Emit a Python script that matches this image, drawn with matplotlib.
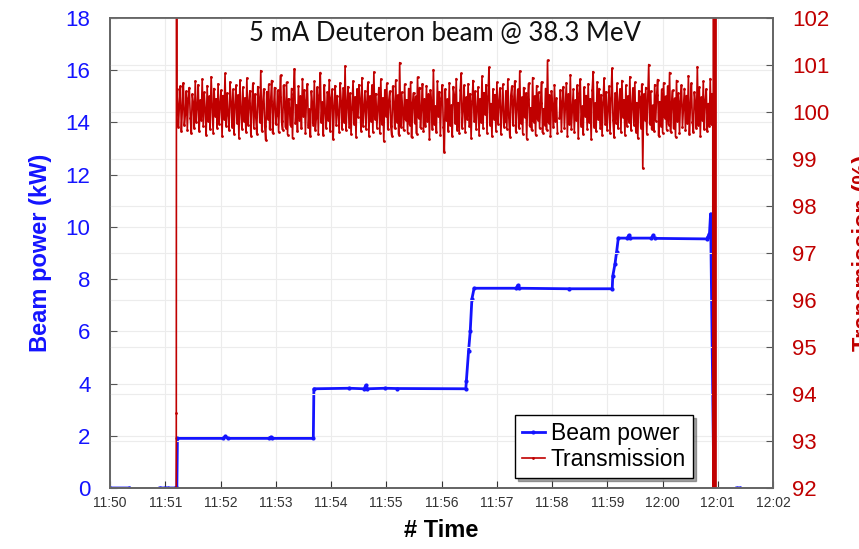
import numpy as np
import matplotlib.pyplot as plt

# time axis: minutes after 11:50
tick_minutes = list(range(0, 13))
tick_labels = ['11:50', '11:51', '11:52', '11:53', '11:54', '11:55', '11:56',
               '11:57', '11:58', '11:59', '12:00', '12:01', '12:02']

# beam power (kW); nan = gap in the log
power_t = [0.00, 0.35, 0.36, 0.90, 1.00, 1.01, 1.05, 1.18, 1.21,
           1.22, 2.05, 2.09, 2.13, 2.88, 2.91, 2.94, 3.68,
           3.69, 4.33, 4.60, 4.63, 4.66, 4.98, 5.19, 6.44,
           6.45, 6.49, 6.52, 6.55, 6.59, 7.35, 7.38, 7.41, 8.30, 9.09,
           9.10, 9.14, 9.17, 9.20, 9.36, 9.39, 9.42, 9.80, 9.83, 9.86, 10.80,
           10.82, 10.85, 10.87, 10.93, 11.33, 11.34, 11.40]
power_kw = [0.0, 0.0, np.nan, 0.0, 0.0, np.nan, 0.0, 0.0, 0.0,
            1.90, 1.90, 1.98, 1.90, 1.90, 1.95, 1.90, 1.90,
            3.80, 3.82, 3.80, 3.93, 3.80, 3.82, 3.81, 3.80,
            4.10, 5.25, 6.00, 7.24, 7.65, 7.65, 7.76, 7.65, 7.63, 7.63,
            8.12, 8.58, 9.05, 9.57, 9.57, 9.68, 9.57, 9.57, 9.68, 9.56, 9.54,
            9.62, 9.73, 10.50, 0.0, np.nan, 0.0, 0.0]

# transmission (%) at beam start and at beam stop
trans_start_t = [1.19, 1.20, 1.205, 1.21]
trans_start = [80.0, 93.6, 110.0, 100.1]
trans_end_t = [10.91, 10.915, 10.925, 10.93, 10.94, 10.945, 10.955, 10.96, 10.97]
trans_end = [100.2, 60.0, 140.0, 60.0, 140.0, 60.0, 140.0, 60.0, 140.0]

# transmission during the run, in hundredths of a percent above 100 %,
# sampled regularly from 11:51.22 to 12:00.90 (nan = short gap in the log)
trans_run_cents = [
    48, -32, 15, 55, -40, 8, 62, -28, -5, 44,
    -38, 30, 52, -12, -45, 38, 20, -35, 66, -22,
    10, 58, -41, 25, -18, 70, -30, 42, 5, -48,
    56, -20, 33, -37, 75, 12, -44, 50, -8, 28,
    -33, 60, -25, 18, 46, -52, 35, -15, 82, -29,
    40, -6, -39, 64, 22, -31, 48, -46, 14, 57,
    -24, 36, -55, 68, 2, -36, 53, -19, 30, -42,
    72, -27, 20, 45, -50, 9, 61, -34, 38, -10,
    -47, 54, 26, -22, 88, -40, 16, 49, -30, -60,
    43, -14, 59, -37, 24, 67, -45, 11, 52, -26,
    -6, 46, -43, 31, 78, -20, -38, 57, 19, -33,
    63, -48, 28, 4, -29, 50, -56, 39, 92, -24,
    15, -41, 55, -16, 34, -35, 71, -9, 47, -44,
    25, 60, -31, 6, -52, 44, 18, -27, 65, -38,
    -12, 53, -46, 37, 84, -22, 21, -49, 58, 1,
    -34, 42, -18, 69, -40, 29, 48, -58, 13, 56,
    -28, 35, -4, -43, 62, 23, -36, 51, -21, 98,
    -39, 16, 54, -32, 40, -47, 7, 66, -25, 32,
    -53, 49, -11, 58, 27, -40, 73, -30, 9, 45,
    -36, 22, 63, -51, 34, -19, 57, -42, 85, -15,
    39, -33, 11, 52, -45, 70, -26, 30, -62, 47,
    -8, 61, -37, 24, 44, -29, -50, 55, 17, -35,
    68, -21, 36, -48, 105, -31, 42, 3, -39, 59,
    -17, 26, -44, 50, -27, 64, -54, 19, 41, -23,
    33, -46, 74, -13, 52, -34, 8, 60, -41, 28,
    -30, 56, -20, 38, -57, 47, 21, -36, 90, -26,
    12, -43, 65, -9, 43, -49, 30, 58, -32, -85,
    49, -18, 27, -40, 62, -28, 14, -51, 54, 36,
    -24, 71, -38, 20, -45, 46, 82, -33, 5, 57,
    -42, 31, -15, 60, -30, 39, -55, 24, 67, -20,
    44, -37, 10, 53, -48, 28, -22, 76, -35, 41,
    -5, 58, -44, 33, 95, -27, 18, -52, 49, -14,
    37, -40, 63, -25, 22, 51, -47, 6, 59, -31,
    -19, 45, -36, 70, -10, -53, 35, 55, -28, 24,
    66, -42, 13, 48, -33, 87, -24, 31, -46, 52,
    -11, 40, -57, 27, 61, -30, 9, -39, 73, -21,
    34, -49, 56, -16, 42, -35, 20, 64, -44, 7,
    -27, 50, -38, 110, -23, 36, -52, 45, 15, -32,
    58, -20, 29, -45, np.nan, -12, 47, -40, 23, 54,
    -34, 16, 62, -50, 38, -26, 79, -37, 4, 48,
    -43, 25, -18, 57, -55, 41, 70, -29, 12, -47,
    53, -8, 35, -36, 60, -22, 28, -58, 46, 86,
    -31, 19, -41, 64, -15, 50, -33, 37, -49, 22,
    72, -26, 43, -39, 8, 55, -45, 30, 93, -18,
    -54, 40, -24, 61, -35, 18, 49, -43, 67, -10,
    26, -48, 57, -30, 34, -21, 75, -38, 11, 51,
    -28, 63, -42, 20, -56, 45, 31, -33, 59, -120,
    38, -16, 52, -46, 27, 101, -25, 44, -37, 14,
    -40, 58, -19, 36, 69, -51, 22, -29, 48, -44,
    62, -12, 33, -38, 55, -27, 84, -42, 17, 46,
    -35, 29, -53, 67, -20, 40, -45, 24, 57, -31,
    10, 50, -39, 35, -24, 77, -47, 13, 61, -22,
    -43, 42, 20, -34, 96, -28, 53, -50, 31, -17,
    65, -37, 25, 49, -41, 18, -30, 71, -26, 39,
]
trans_run = 100 + np.array(trans_run_cents, dtype=float) / 100
trans_run_t = np.linspace(1.22, 10.90, len(trans_run))

trans_t = np.concatenate([trans_start_t, trans_run_t, trans_end_t])
trans = np.concatenate([trans_start, trans_run, trans_end])

BLUE = '#1414ff'
RED = '#c00000'

plt.rcParams['font.family'] = ['Liberation Sans', 'DejaVu Sans']

fig = plt.figure(figsize=(8.59, 5.49), dpi=100)
ax = fig.add_axes([110 / 859, 61 / 549, 663 / 859, 470 / 549])
ax2 = ax.twinx()

ax.plot(power_t, power_kw, color=BLUE, lw=2.0, marker='.', ms=4, label='Beam power')
ax2.plot(trans_t, trans, color=RED, lw=1.2, marker='.', ms=2, label='Transmission')

ax.set_xlim(0, 12)
ax.set_ylim(0, 18)
ax2.set_ylim(92, 102)
ax.set_xticks(tick_minutes)
ax.set_xticklabels(tick_labels)
ax.set_yticks(range(0, 19, 2))
ax2.set_yticks(range(92, 103))

ax.grid(True, color='#ececec', lw=0.8)
ax2.grid(True, axis='y', color='#ececec', lw=0.8)
ax.set_axisbelow(True)

ax.tick_params(axis='x', direction='in', length=5, labelsize=10, colors='#333333', pad=6)
ax.tick_params(axis='y', direction='in', length=5, labelsize=16, labelcolor=BLUE, color='#555555', pad=14)
ax2.tick_params(axis='y', direction='in', length=5, labelsize=16, labelcolor=RED, color='#555555', pad=14)
for a in (ax, ax2):
    for s in a.spines.values():
        s.set_color('#666666')
        s.set_linewidth(1.3)

ax.set_ylabel('Beam power (kW)', color=BLUE, fontsize=17, fontweight='bold')
ax.yaxis.set_label_coords(-0.088, 0.5)
# the right label runs off the figure edge, as in the original slide
ax2.set_ylabel('Transmission (%)', color=RED, fontsize=17, fontweight='bold', rotation=90)
ax2.yaxis.set_label_coords(1.119, 0.5)
ax.set_xlabel('# Time', fontsize=17, fontweight='bold')
ax.xaxis.set_label_coords(0.5, -0.066)

ax.text(0.505, 0.966, '5 mA Deuteron beam @ 38.3 MeV', transform=ax.transAxes,
        ha='center', va='center', fontsize=18.5, family=['Lato', 'DejaVu Sans'], color='#111111')

h1, l1 = ax.get_legend_handles_labels()
h2, l2 = ax2.get_legend_handles_labels()
leg = ax2.legend(h1 + h2, l1 + l2, loc='lower right', bbox_to_anchor=(0.879, 0.021),
                 fontsize=16.5, frameon=True, fancybox=False, shadow=True,
                 edgecolor='black', handlelength=1.0, handletextpad=0.25,
                 borderpad=0.3, labelspacing=0.15, borderaxespad=0)
leg.get_frame().set_linewidth(1.0)

fig.savefig('out.png', dpi=100)
